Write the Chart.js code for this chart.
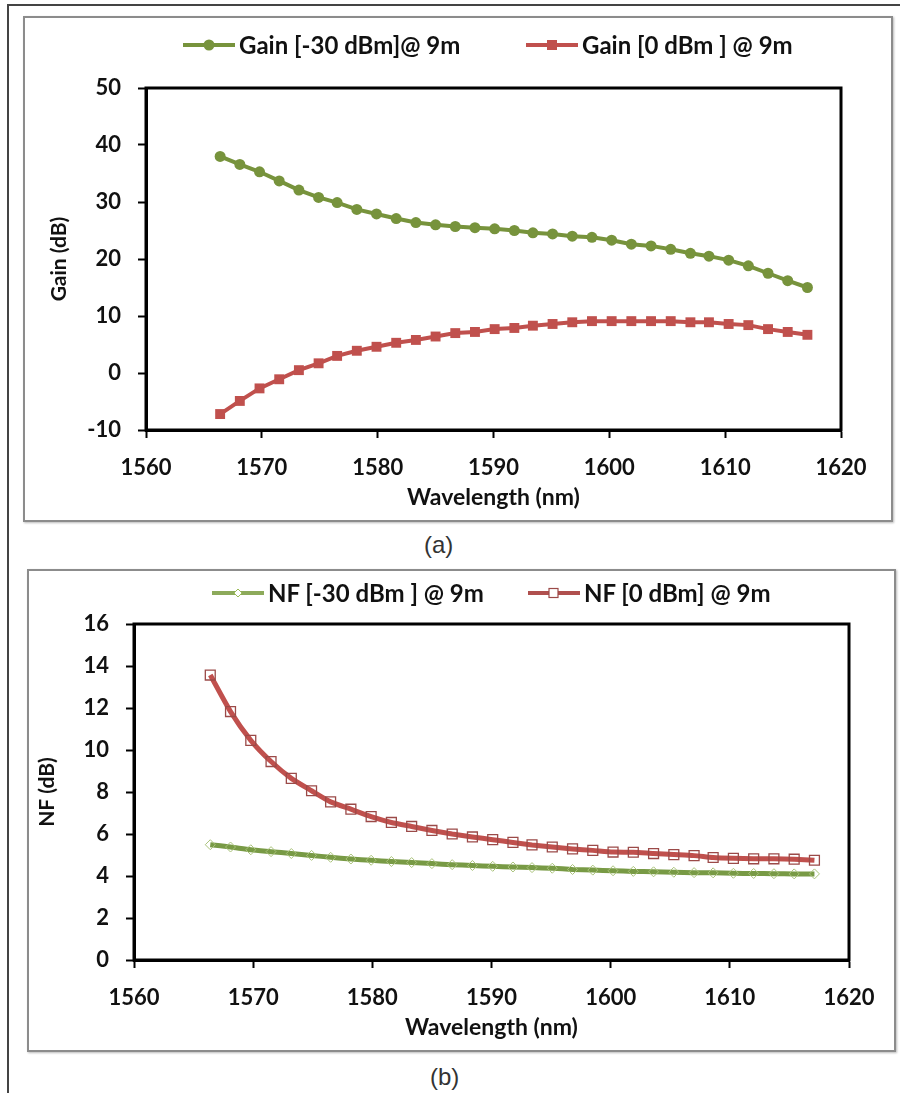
<!DOCTYPE html>
<html><head><meta charset="utf-8">
<script src="https://cdn.jsdelivr.net/npm/chart.js@4.4.1/dist/chart.umd.min.js"></script>
<style>
html,body{margin:0;padding:0;background:#fff;}
body{width:900px;height:1093px;position:relative;overflow:hidden;font-family:Lato,sans-serif;}
#frame{position:absolute;left:7px;top:4px;width:900px;height:1100px;border-top:2px solid #444;border-left:2px solid #444;}
.box{position:absolute;box-sizing:border-box;border:2px solid #8c8c8c;box-shadow:1px 1px 2px #bbb;background:#fff;}
#boxA{left:23px;top:16px;width:870px;height:506px;}
#boxB{left:27px;top:569px;width:869px;height:483px;}
canvas{position:absolute;}
#cA{left:26px;top:19px;}
#cB{left:30px;top:572px;}
.leg{position:absolute;display:flex;align-items:center;font-weight:700;font-size:24px;color:#111;white-space:pre;}
.leg svg{margin-right:4px;}
.cap{position:absolute;font-size:24px;color:#333;font-family:"Liberation Sans",sans-serif;}
</style></head>
<body>
<div id="frame"></div>
<div class="box" id="boxA"></div>
<div class="box" id="boxB"></div>
<canvas id="cA" width="866" height="502"></canvas>
<canvas id="cB" width="863" height="477"></canvas>
<div class="leg" style="left:183px;top:30px;"><svg width="52" height="14"><line x1="0" y1="7" x2="52" y2="7" stroke="#77933C" stroke-width="4"/><circle cx="26" cy="7" r="5.5" fill="#77933C"/></svg>Gain [-30 dBm]@ 9m</div>
<div class="leg" style="left:526px;top:30px;"><svg width="52" height="14"><line x1="0" y1="7" x2="52" y2="7" stroke="#C0504D" stroke-width="4"/><rect x="21" y="2" width="10" height="10" fill="#C0504D"/></svg>Gain [0 dBm ] @ 9m</div>
<div class="leg" style="left:212px;top:578px;"><svg width="52" height="14"><line x1="0" y1="7" x2="52" y2="7" stroke="#8DAA5B" stroke-width="4"/><path d="M26 3 L30 7 L26 11 L22 7 Z" fill="#fff" stroke="#9BBB59" stroke-width="1"/></svg>NF [-30 dBm ] @ 9m</div>
<div class="leg" style="left:528px;top:578px;"><svg width="52" height="14"><line x1="0" y1="7" x2="52" y2="7" stroke="#B0504E" stroke-width="4"/><rect x="21" y="2.5" width="9" height="9" fill="#fff" stroke="#9b4a48" stroke-width="1.2"/></svg>NF [0 dBm] @ 9m</div>
<div class="cap" style="left:424px;top:531px;">(a)</div>
<div class="cap" style="left:430px;top:1063px;">(b)</div>
<script>
const wavelengths = [1566.4,1568.1,1569.8,1571.5,1573.2,1574.9,1576.5,1578.2,1579.9,1581.6,1583.3,1585.0,1586.7,1588.4,1590.1,1591.8,1593.4,1595.1,1596.8,1598.5,1600.2,1601.9,1603.6,1605.3,1607.0,1608.6,1610.3,1612.0,1613.7,1615.4,1617.1];
const gainM30 = [38.0,36.6,35.3,33.7,32.1,30.8,29.9,28.7,27.9,27.1,26.4,26.0,25.7,25.5,25.3,25.0,24.6,24.4,24.0,23.8,23.3,22.6,22.3,21.7,21.0,20.5,19.8,18.8,17.5,16.2,15.0];
const gain0 = [-7.2,-4.9,-2.7,-1.1,0.5,1.7,3.0,3.9,4.6,5.3,5.8,6.4,7.0,7.2,7.7,7.9,8.3,8.6,8.9,9.1,9.1,9.1,9.1,9.1,8.9,8.9,8.6,8.4,7.7,7.2,6.7];
const nfM30 = [5.49,5.38,5.25,5.16,5.07,4.98,4.89,4.81,4.75,4.69,4.64,4.59,4.54,4.50,4.46,4.43,4.40,4.37,4.31,4.28,4.25,4.22,4.20,4.18,4.16,4.15,4.13,4.12,4.11,4.10,4.10];
const nf0 = [13.57,11.83,10.46,9.45,8.65,8.06,7.53,7.18,6.83,6.55,6.36,6.17,6.00,5.86,5.73,5.60,5.48,5.38,5.29,5.22,5.14,5.13,5.07,5.02,4.97,4.88,4.84,4.82,4.82,4.80,4.75];
const xTicks = {min:1560, max:1620, step:10};
const gainTicks = {min:-10, max:50, step:10};
const nfTicks = {min:0, max:16, step:2};
const labelsA = ['Gain [-30 dBm]@ 9m','Gain [0 dBm ] @ 9m'];
const labelsB = ['NF [-30 dBm ] @ 9m','NF [0 dBm] @ 9m'];
const xTitle = 'Wavelength (nm)';

Chart.defaults.font.family = 'Lato';
Chart.defaults.color = '#111';

const pts = ys => ys.map((y,i)=>({x:wavelengths[i], y}));

const frameBox = {id:'frameBox', afterDatasetsDraw(chart){
  const {ctx, chartArea:a} = chart;
  ctx.save(); ctx.strokeStyle='#000'; ctx.lineWidth=3;
  ctx.strokeRect(a.left, a.top, a.right-a.left, a.bottom-a.top);
  ctx.restore();
}};

function axis(t, fitW, fitH, title, titleSize, titlePad){
  const o = {
    type:'linear', min:t.min, max:t.max,
    ticks:{stepSize:t.step, padding:17, font:{size:22, weight:'bold'}, color:'#111', maxRotation:0, autoSkip:false,
           callback: v => String(v)},
    grid:{drawOnChartArea:false, drawTicks:true, tickLength:8, tickColor:'#000', tickWidth:2},
    border:{display:true, color:'#000', width:3},
    title:{display:true, text:title, font:{size:titleSize, weight:'bold'}, color:'#111', padding:titlePad}
  };
  if (fitW) o.afterFit = s => { s.width = fitW; };
  if (fitH) o.afterFit = s => { s.height = fitH; };
  return o;
}

function make(id, ds, yT, yTitle, cfg){
  new Chart(document.getElementById(id), {
    type:'line',
    data:{datasets:ds},
    options:{
      responsive:false, animation:false, events:[],
      layout:{padding:{left:0, top:cfg.top, right:cfg.right, bottom:0}},
      plugins:{legend:{display:false}, tooltip:{enabled:false}},
      scales:{
        x: axis(xTicks, 0, cfg.fitH, xTitle, 23, {top:0, bottom:cfg.xtp}),
        y: axis(yT, cfg.fitW, 0, yTitle, 21, {top:cfg.ytp, bottom:0})
      }
    },
    plugins:[frameBox]
  });
}

make('cA', [
  {label:labelsA[0], data:pts(gainM30), borderColor:'#77933C', backgroundColor:'#77933C', borderWidth:4,
   pointStyle:'circle', pointRadius:5.5, pointBackgroundColor:'#77933C', pointBorderColor:'#77933C', pointBorderWidth:0, tension:0},
  {label:labelsA[1], data:pts(gain0), borderColor:'#C0504D', backgroundColor:'#C0504D', borderWidth:4,
   pointStyle:'rect', pointRadius:7, pointBackgroundColor:'#C0504D', pointBorderColor:'#C0504D', pointBorderWidth:0, tension:0}
], gainTicks, 'Gain (dB)', {top:69, right:51, fitW:120, fitH:91, xtp:10, ytp:21});

make('cB', [
  {label:labelsB[0], data:pts(nfM30), borderColor:'#789A45', backgroundColor:'#789A45', borderWidth:5,
   pointStyle:'rectRot', pointRadius:5, pointBackgroundColor:'rgba(255,255,255,0)', pointBorderColor:'#A9C27A', pointBorderWidth:1, tension:0.2},
  {label:labelsB[1], data:pts(nf0), borderColor:'#C0504D', backgroundColor:'#C0504D', borderWidth:5,
   pointStyle:'rect', pointRadius:7, pointBackgroundColor:'rgba(255,255,255,0)', pointBorderColor:'#9b4a48', pointBorderWidth:1.3, tension:0.2}
], nfTicks, 'NF (dB)', {top:52, right:44, fitW:104, fitH:89, xtp:8, ytp:5});
</script>
</body></html>
